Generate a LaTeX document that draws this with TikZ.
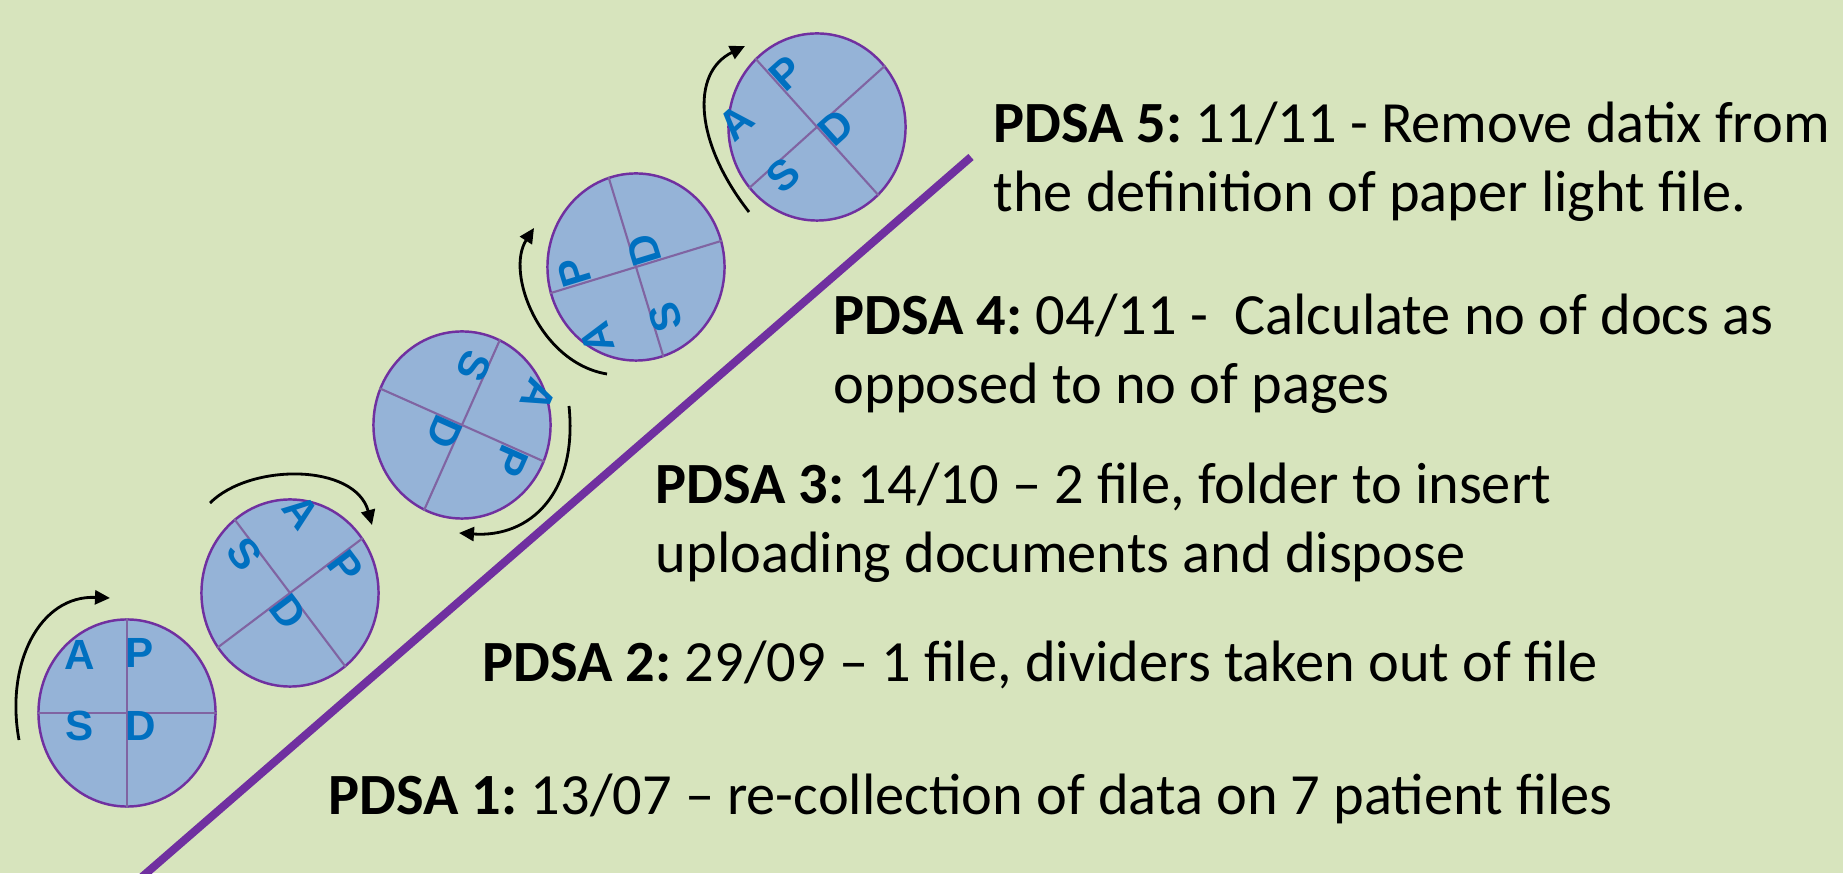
\documentclass[tikz,border=0pt]{standalone}
\usepackage{fontspec}
\setmainfont{Carlito}
\newfontfamily\letterfont{Liberation Sans}
\usepackage{xcolor}
\usetikzlibrary{positioning, shapes.geometric, calc, arrows.meta}
\frenchspacing
\definecolor{pdBack}{RGB}{215, 228, 189}
\definecolor{pdFill}{RGB}{149, 179, 215}
\definecolor{pdPurple}{RGB}{112, 48, 160}
\definecolor{pdDivider}{RGB}{128, 100, 162}
\definecolor{pdLetter}{RGB}{0, 112, 192}
\tikzset{
    wheel/.style={
        ellipse,
        draw=pdPurple,
        line width=0.7pt,
        fill=pdFill,
        minimum width=1.77cm,
        minimum height=1.87cm,
        inner sep=0pt
    },
    divider/.style={
        draw=pdDivider,
        line width=0.6pt
    },
    letter/.style={
        font=\letterfont\bfseries\fontsize{12}{14}\selectfont,
        text=pdLetter,
        inner sep=0pt
    },
    turn/.style={
        -{Triangle[length=0.15cm, width=0.14cm]},
        line width=0.8pt,
        color=black
    },
    note/.style={
        font=\fontsize{16.6}{19.9}\selectfont,
        anchor=base west,
        align=left,
        inner sep=0pt
    }
}

\begin{document}
\begin{tikzpicture}[x=0.01cm, y=0.01cm]
  % Background
  \fill[pdBack] (0,0) rectangle (1843,873);
  \useasboundingbox (0,0) rectangle (1843,873);

  % The timeline
  \coordinate (lineStart) at (135,-10);
  \coordinate (lineEnd) at (971,716);
  \draw[pdPurple, line width=0.08cm] (lineStart) -- (lineEnd);

  % The PDSA wheels
  \foreach \n/\x/\y/\rot/\ax in {1/127/160/0/-47, 2/290/280/307/-58, 3/462/448/246/-58, 4/636/606/107/-57, 5/817/746/42/-57}{
    \node[wheel] (c\n) at (\x,\y) {};
    \pgfmathtruncatemacro{\ra}{\rot+90}
    \pgfmathtruncatemacro{\rb}{\rot+180}
    \pgfmathtruncatemacro{\rc}{\rot+270}
    \draw[divider] (c\n.\rot) -- (c\n.\rb);
    \draw[divider] (c\n.\ra) -- (c\n.\rc);
    \begin{scope}[shift={(c\n.center)}, rotate=\rot]
      \node[letter, rotate=\rot] (a\n) at (\ax,58) {A};
      \node[letter, rotate=\rot] (p\n) at (13,60) {P};
      \node[letter, rotate=\rot] (s\n) at (\ax,-13) {S};
      \node[letter, rotate=\rot] (d\n) at (14,-13) {D};
    \end{scope}
  }

  % Turning arrows
  \coordinate (t1a) at (19,133);
  \coordinate (t1b) at (110,275);
  \draw[turn] (t1a) .. controls (5,210) and (40,278) .. (t1b);
  \coordinate (t2a) at (210,370);
  \coordinate (t2b) at (372,348);
  \draw[turn] (t2a) .. controls (250,410) and (355,410) .. (t2b);
  \coordinate (t3a) at (569,467);
  \coordinate (t3b) at (459,340);
  \draw[turn] (t3a) .. controls (578,380) and (530,335) .. (t3b);
  \coordinate (t4a) at (607,499);
  \coordinate (t4b) at (534,645);
  \draw[turn] (t4a) .. controls (540,510) and (505,600) .. (t4b);
  \coordinate (t5a) at (749,661);
  \coordinate (t5b) at (745,827);
  \draw[turn] (t5a) .. controls (695,730) and (690,800) .. (t5b);

  % The cycle notes (base = last line)
  \node[note] (pdsa5) at (993,661) {\textbf{PDSA 5:} 11/11 - Remove datix from\\the definition of paper light file.};
  \node[note] (pdsa4) at (833,469) {\textbf{PDSA 4:} 04/11 -\ \ Calculate no of docs as\\opposed to no of pages};
  \node[note] (pdsa3) at (655,300) {\textbf{PDSA 3:} 14/10 – 2 file, folder to insert\\uploading documents and dispose};
  \node[note] (pdsa2) at (482,191) {\textbf{PDSA 2:} 29/09 – 1 file, dividers taken out of file};
  \node[note] (pdsa1) at (328,58) {\textbf{PDSA 1:} 13/07 – re-collection of data on 7 patient files};
\end{tikzpicture}
\end{document}
